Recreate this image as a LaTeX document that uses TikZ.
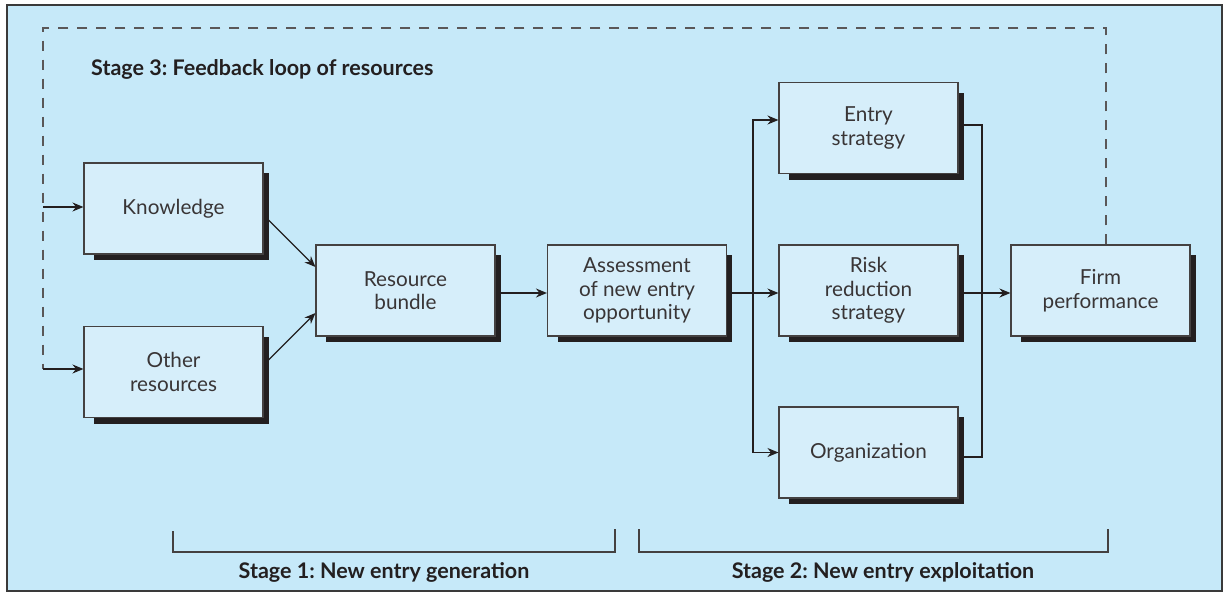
\documentclass[tikz,border=0pt]{standalone}
\usepackage{fontspec}
\setmainfont{Lato}
\usetikzlibrary{arrows.meta,calc}
\definecolor{bgblue}{HTML}{C6E9F9}
\definecolor{boxblue}{HTML}{D6EEFA}
\definecolor{ink}{HTML}{231F20}
\definecolor{frame}{HTML}{3A3A3A}
\pgfdeclarelayer{bg}
\pgfdeclarelayer{shadow}
\pgfsetlayers{bg,shadow,main}
\frenchspacing
\begin{document}
\begin{tikzpicture}[x=1pt,y=-1pt,
  box/.style={draw=ink!85, line width=1.1pt, fill=boxblue, minimum width=179pt, minimum height=91pt,
    inner sep=0pt, align=center, font=\fontsize{20.7}{23.5}\selectfont, text=ink!90},
  conn/.style={draw=ink, line width=1.3pt},
  arr/.style={conn, -{Stealth[length=11pt,width=9pt]}},
  fb/.style={draw=ink!75, line width=1.4pt, dash pattern=on 10pt off 9pt},
  stage/.style={font=\bfseries\fontsize{21.5}{24}\selectfont, text=ink, inner sep=0pt},
  brk/.style={draw=ink!85, line width=1.3pt}]
\useasboundingbox (0,0) rectangle (1225,596);
\begin{pgfonlayer}{bg}
\fill[white] (0,0) rectangle (1225,596);
\draw[fill=bgblue, draw=frame, line width=1.5pt] (7,5) rectangle (1222,591);
\end{pgfonlayer}
% boxes
\node[box] (know) at (173.5,208.5) {Knowledge};
\node[box] (other) at (173.5,372) {Other\\resources};
\node[box] (bundle) at (405.5,290.5) {Resource\\bundle};
\node[box] (assess) at (637,290.5) {Assessment\\of new entry\\opportunity};
\node[box] (entry) at (868.5,128) {Entry\\strategy};
\node[box] (risk) at (868.5,290.5) {Risk\\reduction\\strategy};
\node[box] (org) at (868.5,452.5) {Organization};
\node[box] (firm) at (1100.5,290.5) {Firm\\performance};
% shadows
\begin{pgfonlayer}{shadow}
\foreach \n in {know,other,bundle,assess,entry,risk,org,firm}{
  \fill[ink] ([shift={(11pt,-11pt)}]\n.north west) rectangle ([shift={(5pt,-5.5pt)}]\n.south east);
}
\end{pgfonlayer}
% feedback loop
\coordinate (fbL) at (43,28);
\coordinate (k0) at (43,207);
\coordinate (o0) at (43,369);
\draw[fb] ([xshift=5.5pt]firm.north) |- (fbL) -- (o0);
\draw[arr] (k0) -- (know.west |- k0);
\draw[arr] (o0) -- (other.west |- o0);
\node[stage, anchor=west] (s3) at (91,69) {Stage 3: Feedback loop of resources};
% stage 1 connections
\draw[arr] ([shift={(5pt,-11.5pt)}]know.east) -- ([yshift=23.5pt]bundle.west);
\draw[arr] ([shift={(5pt,12pt)}]other.east) -- ([yshift=-22.5pt]bundle.west);
\draw[arr] ([shift={(5pt,-2.5pt)}]bundle.east) -- ([yshift=-2.5pt]assess.west);
% split
\coordinate (split) at (753,293);
\draw[conn] ([shift={(5pt,-2.5pt)}]assess.east) -- (split);
\draw[arr] (split) -- ([yshift=-2.5pt]risk.west);
\draw[arr] (split) |- ([yshift=8pt]entry.west);
\draw[arr] (split) |- (org.west);
% merge
\coordinate (merge) at (982,293);
\draw[conn] ([shift={(5pt,3pt)}]entry.east) -| (merge);
\draw[conn] ([shift={(5pt,-4.5pt)}]org.east) -| (merge);
\draw[arr] ([shift={(5pt,-2.5pt)}]risk.east) -- ([yshift=-2.5pt]firm.west);
% brackets
\draw[brk] (173,531) -- (173,552) -- (615,552) -- (615,529);
\draw[brk] (639,529) -- (639,552) -- (1108,552) -- (1108,529);
\node[stage] (s1) at (384,572) {Stage 1: New entry generation};
\node[stage] (s2) at (883,572) {Stage 2: New entry exploitation};
\end{tikzpicture}
\end{document}
